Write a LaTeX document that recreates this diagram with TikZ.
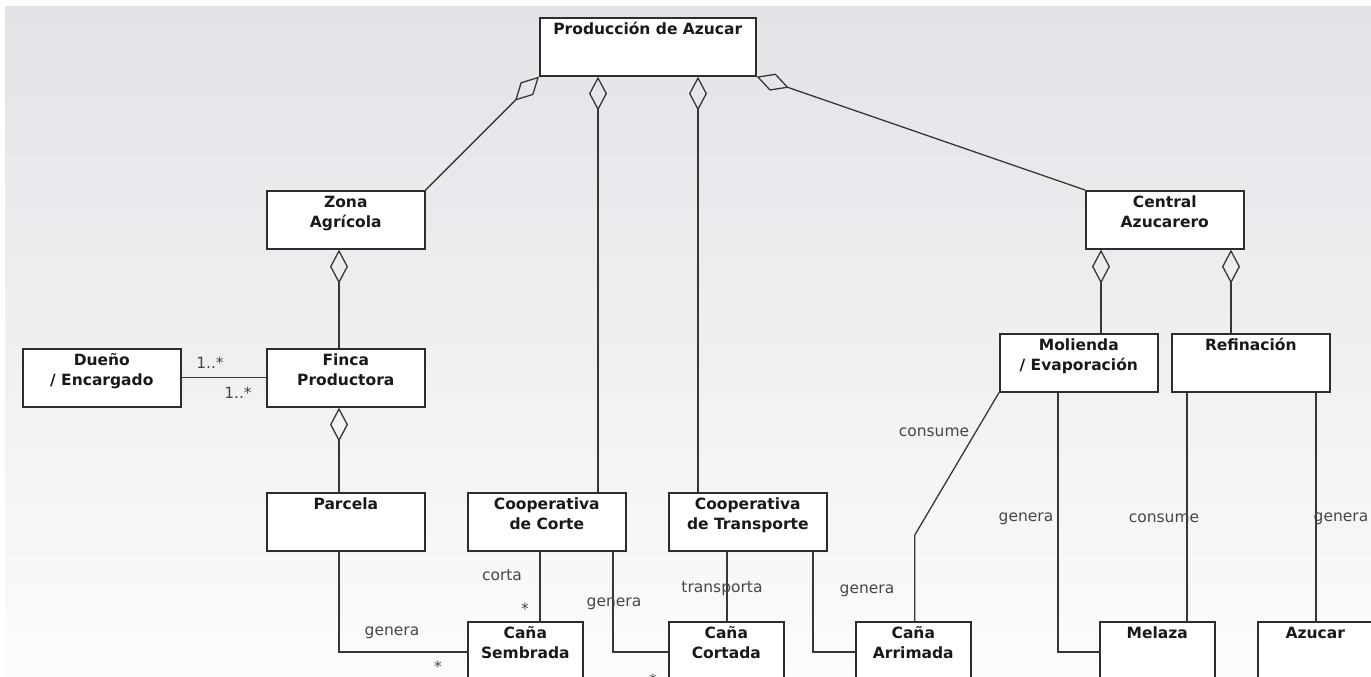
\documentclass[tikz,border=0pt]{standalone}
\usepackage{fontspec}
\setmainfont{DejaVu Sans}
\usetikzlibrary{arrows.meta,calc}
\definecolor{boxline}{RGB}{45,45,45}
\definecolor{conline}{RGB}{55,55,55}
\definecolor{lblcol}{RGB}{70,70,70}
\definecolor{bgtop}{RGB}{226,227,231}
\definecolor{bgbot}{RGB}{252,252,252}
\newcommand{\clstext}[3]{\parbox[t][#2][t]{#1}{\centering\rule{0pt}{17pt}#3}}
\tikzset{
  cls/.style={draw=boxline, line width=1.6pt, fill=white, inner sep=0pt, anchor=north west,
    font=\fontsize{15.5pt}{20pt}\selectfont\bfseries, text=black!90},
  lbl/.style={font=\fontsize{15.5pt}{19pt}\selectfont, text=lblcol, inner sep=0pt, anchor=base},
  con/.style={draw=conline, line width=1.3pt},
  agg/.style={con, {Diamond[open, length=34pt, width=18pt]}-}
}
\begin{document}
\begin{tikzpicture}[x=1pt, y=-1pt]
\useasboundingbox (0,0) rectangle (1371,677);
\fill[top color=bgtop, bottom color=bgbot] (5,7) rectangle (1371,677);

% classes
\node[cls] (prod) at (539,17) {\clstext{216pt}{58pt}{Producción de Azucar}};
\node[cls] (zona) at (266,190) {\clstext{158pt}{58pt}{Zona\\Agrícola}};
\node[cls] (central) at (1085,190) {\clstext{158pt}{58pt}{Central\\Azucarero}};
\node[cls] (dueno) at (22,348) {\clstext{158pt}{58pt}{Dueño\\/ Encargado}};
\node[cls] (finca) at (266,348) {\clstext{158pt}{58pt}{Finca\\Productora}};
\node[cls] (moli) at (999,333) {\clstext{158pt}{58pt}{Molienda\\/ Evaporación}};
\node[cls] (refi) at (1171,333) {\clstext{158pt}{58pt}{Refinación}};
\node[cls] (parcela) at (266,492) {\clstext{158pt}{58pt}{Parcela}};
\node[cls] (corte) at (467,492) {\clstext{158pt}{58pt}{Cooperativa\\de Corte}};
\node[cls] (transp) at (668,492) {\clstext{158pt}{58pt}{Cooperativa\\de Transporte}};
\node[cls] (sembrada) at (467,621) {\clstext{115pt}{62pt}{Caña\\Sembrada}};
\node[cls] (cortada) at (668,621) {\clstext{115pt}{62pt}{Caña\\Cortada}};
\node[cls] (arrimada) at (855,621) {\clstext{115pt}{62pt}{Caña\\Arrimada}};
\node[cls] (melaza) at (1099,621) {\clstext{115pt}{62pt}{Melaza}};
\node[cls] (azucar) at (1257,621) {\clstext{115pt}{62pt}{Azucar}};

% helper coordinates
\coordinate (pA) at ($(prod.south west)+(59,0)$);
\coordinate (pB) at ($(prod.south west)+(159,0)$);
\coordinate (zA) at ($(zona.south west)+(73,0)$);
\coordinate (fA) at ($(finca.south west)+(73,0)$);
\coordinate (cA) at ($(central.south west)+(16,0)$);
\coordinate (cB) at ($(central.south west)+(146,0)$);
\coordinate (paA) at ($(parcela.south west)+(73,0)$);
\coordinate (coA) at ($(corte.south west)+(73,0)$);
\coordinate (coB) at ($(corte.south west)+(146,0)$);
\coordinate (trA) at ($(transp.south west)+(59,0)$);
\coordinate (trB) at ($(transp.south west)+(145,0)$);
\coordinate (moA) at ($(moli.south west)+(59,0)$);
\coordinate (reA) at ($(refi.south west)+(16,0)$);
\coordinate (reB) at ($(refi.south west)+(145,0)$);
\coordinate (arA) at ($(arrimada.north)+(1.5,-86)$);
\coordinate (seJ) at ($(sembrada.north west)+(0,31)$);
\coordinate (ctJ) at ($(cortada.north west)+(0,31)$);
\coordinate (arJ) at ($(arrimada.north west)+(0,31)$);
\coordinate (meJ) at ($(melaza.north west)+(0,31)$);

% aggregations
\draw[agg] (prod.south west) -- (zona.north east);
\draw[agg] (pA) -- (pA |- corte.north);
\draw[agg] (pB) -- (pB |- transp.north);
\draw[agg] (prod.south east) -- (central.north west);
\draw[agg] (zA) -- (zA |- finca.north);
\draw[agg] (fA) -- (fA |- parcela.north);
\draw[agg] (cA) -- (cA |- moli.north);
\draw[agg] (cB) -- (cB |- refi.north);

% associations
\draw[con] (dueno.east) -- (finca.west);
\draw[con] (paA) |- (seJ);
\draw[con] (coA) -- (coA |- sembrada.north);
\draw[con] (coB) |- (ctJ);
\draw[con] (trA) -- (trA |- cortada.north);
\draw[con] (trB) |- (arJ);
\draw[con] (moli.south west) -- (arA) -- (arA |- arrimada.north);
\draw[con] (moA) |- (meJ);
\draw[con] (reA) -- (reA |- melaza.north);
\draw[con] (reB) -- (reB |- azucar.north);

% labels
\node[lbl] (m1) at (210,368) {1..*};
\node[lbl] (m2) at (238,398) {1..*};
\node[lbl] (g1) at (392,635) {genera};
\node[lbl] (s1) at (438,672) {*};
\node[lbl] (l2) at (502,580) {corta};
\node[lbl] (s2) at (525,614) {*};
\node[lbl] (g2) at (614,606) {genera};
\node[lbl] (s3) at (653,685) {*};
\node[lbl] (l3) at (722,592) {transporta};
\node[lbl] (g3) at (867,593) {genera};
\node[lbl] (l4) at (934,436) {consume};
\node[lbl] (g4) at (1026,521) {genera};
\node[lbl] (l5) at (1164,522) {consume};
\node[lbl] (g5) at (1341,521) {genera};
\end{tikzpicture}
\end{document}
